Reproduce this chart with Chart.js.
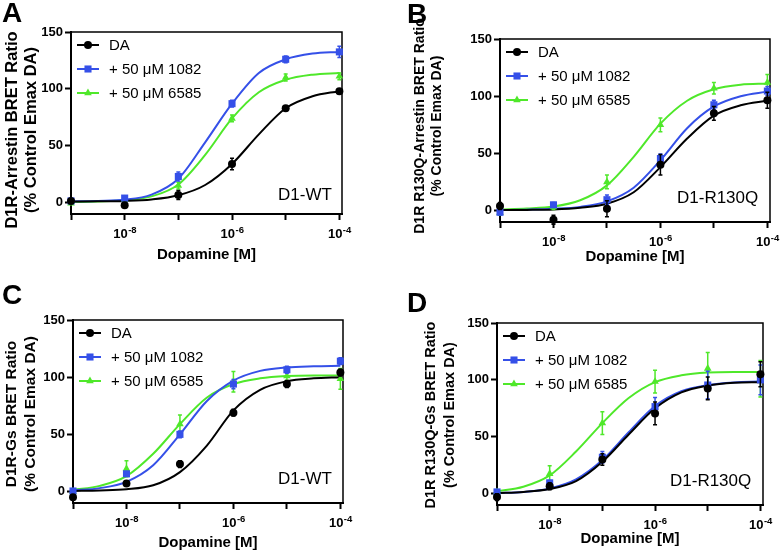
<!DOCTYPE html>
<html>
<head>
<meta charset="utf-8">
<script src="https://cdn.jsdelivr.net/npm/chart.js@4.4.1/dist/chart.umd.min.js"></script>
<style>
html,body{margin:0;padding:0;background:#fff;}
#fig{position:relative;width:780px;height:553px;overflow:hidden;background:#fff;}
#fig canvas{position:absolute;}
</style>
</head>
<body>
<div id="fig">
<canvas id="cA" width="390" height="276" style="left:0;top:0"></canvas>
<canvas id="cB" width="390" height="276" style="left:390px;top:0"></canvas>
<canvas id="cC" width="390" height="277" style="left:0;top:276px"></canvas>
<canvas id="cD" width="390" height="277" style="left:390px;top:276px"></canvas>
</div>
<script>
// doses used for the measured points and for the fitted curves (M)
const doses=[1e-9,1e-8,1e-7,1e-6,1e-5,1e-4];
const fitDoses=[1e-9,3.16e-9,1e-8,3.16e-8,1e-7,3.16e-7,1e-6,3.16e-6,1e-5,3.16e-5,1e-4];
const xTickValues=[1e-9,1e-8,1e-7,1e-6,1e-5,1e-4];
const xTickBase='10';
const xTickExponents=['','-8','','-6','','-4'];
const yTickValues=[0,50,100,150];
const seriesNames=['DA','+ 50 μM 1082','+ 50 μM 6585'];

// A: D1R-Arrestin, D1-WT
const aDA=[1.5,-2.3,6.7,34,83,98];
const aDAErr=[1,1.5,4,5,2,2];
const aDAFit=[1,1.1,1.5,2.8,6.5,15.5,34,60,83,93.5,98];
const a1082=[1.5,4,23,87,126,132.5];
const a1082Err=[1,1,4,3,3,5];
const a1082Fit=[1,1.5,2.5,7,21,53,87,114,126,131,132.5];
const a6585=[-0.5,3,15,74,110,111];
const a6585Err=[1,1,3,3,3,3];
const a6585Fit=[0.5,1,2,5.5,16,42,74,97,108,112.5,114];

// B: D1R R130Q-Arrestin
const bDA=[4,-8,1.5,40,85,96.5];
const bDAErr=[3,4,7,9,6,7];
const bDAFit=[0.5,0.6,1,2.5,6,16,38,63,83,92,96];
const b1082=[-1.5,5,9.5,45.5,92.5,104.5];
const b1082Err=[2,2,4,4,4,4];
const b1082Fit=[0.5,0.8,1.5,3.2,8,20,44,72,91,100,104];
const b6585=[-2,3,25,75,107,112];
const b6585Err=[2,2,6,6,5,7];
const b6585Fit=[1,1.8,3.5,9,22,47,76,96,106,110,111];

// C: D1R-Gs, D1-WT
const cDA=[-5,7,24,69,94,104];
const cDAErr=[2,2,3,3,3,3];
const cDAFit=[0.5,1,2,5.5,17,40,71,89,96.5,99,100];
const c1082=[0.5,15.5,50,94,106.5,114];
const c1082Err=[1,2,3,4,3,3];
const c1082Fit=[1,3,8.5,23,50,79,97,105.5,108.5,109.5,110];
const c6585=[0,20,59,96,101,98.5];
const c6585Err=[1,7,8,9,4,9];
const c6585Fit=[1.5,5,13.5,33,59,82,94,99,101,101.5,101.5];

// D: D1R R130Q-Gs
const dDA=[-3,6.5,30,70.5,92.5,105];
const dDAErr=[3,3,5,10,10,11];
const dDAFit=[0.5,1.5,4,11,28,52,75,89,95,97.5,98];
const d1082=[1.5,9.5,32,76.5,95.5,100];
const d1082Err=[2,2,5,8,12,13];
const d1082Fit=[0.5,1.5,4.5,12.5,29.5,54,77,90,95.5,97.8,98.5];
const d6585=[1.5,17.5,62,98.5,110,101];
const d6585Err=[2,7,10,10,14,16];
const d6585Fit=[2,6,16,37,62,84,98,104,106.5,107,107];

const FONT='"Liberation Sans", Arial, Helvetica, sans-serif';
const COLORS=['#000000','#3550e8','#4fe82a'];
const MARKERS=['circle','rect','triangle'];
const RADII=[4,5,4.4];
const LEGEND_ROWS=[13,37,61];

const panels=[
 {id:'cA',letter:'A',note:'D1-WT',yTitle:['D1R-Arrestin BRET Ratio','(% Control Emax DA)'],
  vals:[aDA,a1082,a6585],errs:[aDAErr,a1082Err,a6585Err],fits:[aDAFit,a1082Fit,a6585Fit],
  W:390,H:276,box:{l:71,t:32,r:342,b:214},letterAt:[2,22],noteAt:[278,200],
  yFont:16.5,yTitleAt:[12,31,130],xPad:12},
 {id:'cB',letter:'B',note:'D1-R130Q',yTitle:['D1R R130Q-Arrestin BRET Ratio','(% Control Emax DA)'],
  vals:[bDA,b1082,b6585],errs:[bDAErr,b1082Err,b6585Err],fits:[bDAFit,b1082Fit,b6585Fit],
  W:390,H:276,box:{l:110,t:39,r:380,b:222},letterAt:[17,23],noteAt:[287,203],
  yFont:14,yTitleAt:[30,47,126],xPad:10},
 {id:'cC',letter:'C',note:'D1-WT',yTitle:['D1R-Gs BRET Ratio','(% Control Emax DA)'],
  vals:[cDA,c1082,c6585],errs:[cDAErr,c1082Err,c6585Err],fits:[cDAFit,c1082Fit,c6585Fit],
  W:390,H:277,box:{l:73,t:44,r:343,b:227},letterAt:[2,28],noteAt:[278,208],
  yFont:15.5,yTitleAt:[12,31,138],xPad:1},
 {id:'cD',letter:'D',note:'D1-R130Q',yTitle:['D1R R130Q-Gs BRET Ratio','(% Control Emax DA)'],
  vals:[dDA,d1082,d6585],errs:[dDAErr,d1082Err,d6585Err],fits:[dDAFit,d1082Fit,d6585Fit],
  W:390,H:277,box:{l:107,t:47,r:373,b:229},letterAt:[17,36],noteAt:[280,210],
  yFont:14.5,yTitleAt:[41,60,139],xPad:5}
];

function marker(ctx,style,x,y,r){
 ctx.beginPath();
 if(style==='circle') ctx.arc(x,y,r,0,Math.PI*2);
 else if(style==='rect'){const s=r*Math.SQRT1_2;ctx.rect(x-s,y-s,2*s,2*s);}
 else{ctx.moveTo(x,y-r);ctx.lineTo(x+r*0.866,y+r*0.5);ctx.lineTo(x-r*0.866,y+r*0.5);ctx.closePath();}
 ctx.fill();
}

function build(p){
 const datasets=[];
 p.vals.forEach((v,k)=>{
  datasets.push({label:seriesNames[k],data:doses.map((x,i)=>({x:x,y:v[i]})),showLine:false,clip:false,
   pointStyle:MARKERS[k],pointRadius:RADII[k],pointBorderWidth:0,
   pointBackgroundColor:COLORS[k],pointBorderColor:COLORS[k],borderColor:COLORS[k],backgroundColor:COLORS[k]});
 });
 p.fits.forEach((f,k)=>{
  datasets.push({label:seriesNames[k]+' fit',data:fitDoses.map((x,i)=>({x:x,y:f[i]})),clip:false,
   borderColor:COLORS[k],borderWidth:2,pointRadius:0,fill:false,cubicInterpolationMode:'monotone'});
 });

 const deco={
  id:'deco'+p.letter,
  beforeDatasetsDraw(chart){
   const a=chart.chartArea,ctx=chart.ctx;
   ctx.save();
   ctx.strokeStyle='#000';ctx.lineWidth=1.5;
   ctx.beginPath();ctx.moveTo(a.left,a.top);ctx.lineTo(a.right,a.top);ctx.lineTo(a.right,a.bottom);ctx.stroke();
   ctx.restore();
  },
  beforeDatasetDraw(chart,args){
   if(args.index>2) return;
   const k=args.index,ctx=chart.ctx,xs=chart.scales.x,ys=chart.scales.y;
   ctx.save();
   ctx.strokeStyle=COLORS[k];ctx.lineWidth=1.5;
   p.vals[k].forEach((v,i)=>{
    const e=p.errs[k][i];
    const x=xs.getPixelForValue(doses[i]);
    const y1=ys.getPixelForValue(v+e),y2=ys.getPixelForValue(v-e);
    ctx.beginPath();
    ctx.moveTo(x,y1);ctx.lineTo(x,y2);
    ctx.moveTo(x-2,y1);ctx.lineTo(x+2,y1);
    ctx.moveTo(x-2,y2);ctx.lineTo(x+2,y2);
    ctx.stroke();
   });
   ctx.restore();
  },
  afterDraw(chart){
   const a=chart.chartArea,ctx=chart.ctx,xs=chart.scales.x;
   ctx.save();
   // x tick labels as 10 with a raised exponent
   ctx.fillStyle='#000';ctx.textBaseline='alphabetic';ctx.textAlign='left';
   xTickValues.forEach((v,i)=>{
    const e=xTickExponents[i];
    if(!e) return;
    const x=xs.getPixelForValue(v);
    ctx.font='bold 13px '+FONT;const w1=ctx.measureText(xTickBase).width;
    ctx.font='bold 9.5px '+FONT;const w2=ctx.measureText(e).width;
    const x0=x-(w1+w2)/2;
    ctx.font='bold 13px '+FONT;ctx.fillText(xTickBase,x0,a.bottom+24);
    ctx.font='bold 9.5px '+FONT;ctx.fillText(e,x0+w1+0.5,a.bottom+18.5);
   });
   // y axis title, two rotated lines
   ctx.save();
   ctx.font='bold '+p.yFont+'px '+FONT;ctx.textAlign='center';ctx.textBaseline='middle';
   p.yTitle.forEach((line,j)=>{
    ctx.save();
    ctx.translate(p.yTitleAt[j],p.yTitleAt[2]);
    ctx.rotate(-Math.PI/2);
    ctx.fillText(line,0,0);
    ctx.restore();
   });
   ctx.restore();
   // legend inside the plot
   seriesNames.forEach((name,k)=>{
    const y=a.top+LEGEND_ROWS[k];
    ctx.strokeStyle=COLORS[k];ctx.fillStyle=COLORS[k];ctx.lineWidth=2;
    ctx.beginPath();ctx.moveTo(a.left+6,y);ctx.lineTo(a.left+28,y);ctx.stroke();
    marker(ctx,MARKERS[k],a.left+17,y,RADII[k]);
    ctx.fillStyle='#000';ctx.font='15px '+FONT;ctx.textBaseline='middle';ctx.textAlign='left';
    ctx.fillText(name,a.left+38,y+1);
   });
   ctx.fillStyle='#000';ctx.textBaseline='alphabetic';ctx.textAlign='left';
   ctx.font='17px '+FONT;
   ctx.fillText(p.note,p.noteAt[0],p.noteAt[1]);
   ctx.font='bold 28px '+FONT;
   ctx.fillText(p.letter,p.letterAt[0],p.letterAt[1]);
   ctx.restore();
  }
 };

 return new Chart(document.getElementById(p.id),{
  type:'line',
  data:{datasets:datasets},
  plugins:[deco],
  options:{
   responsive:false,animation:false,
   layout:{padding:{left:0,top:p.box.t,right:p.W-p.box.r,bottom:0}},
   plugins:{legend:{display:false},tooltip:{enabled:false}},
   scales:{
    x:{type:'logarithmic',min:1e-9,max:1.12e-4,
     afterBuildTicks:s=>{s.ticks=xTickValues.map(v=>({value:v}));},
     afterFit:s=>{s.height=p.H-p.box.b;s.paddingLeft=0;s.paddingRight=0;},
     ticks:{display:false,autoSkip:false,maxRotation:0,minRotation:0},
     grid:{display:true,drawOnChartArea:false,drawTicks:true,tickLength:6,tickColor:'#000',tickWidth:2},
     border:{display:true,color:'#000',width:2},
     title:{display:true,text:'Dopamine [M]',color:'#000',font:{family:FONT,size:15,weight:'bold'},
      padding:{top:0,bottom:p.xPad}}
    },
    y:{min:-10,max:150,
     afterBuildTicks:s=>{s.ticks=yTickValues.map(v=>({value:v}));},
     afterFit:s=>{s.width=p.box.l;s.paddingTop=0;s.paddingBottom=0;},
     ticks:{padding:2,color:'#000',font:{family:FONT,size:13,weight:'bold'}},
     grid:{display:true,drawOnChartArea:false,drawTicks:true,tickLength:6,tickColor:'#000',tickWidth:2},
     border:{display:true,color:'#000',width:2},
     title:{display:false}
    }
   }
  }
 });
}

panels.forEach(build);
</script>
</body>
</html>
